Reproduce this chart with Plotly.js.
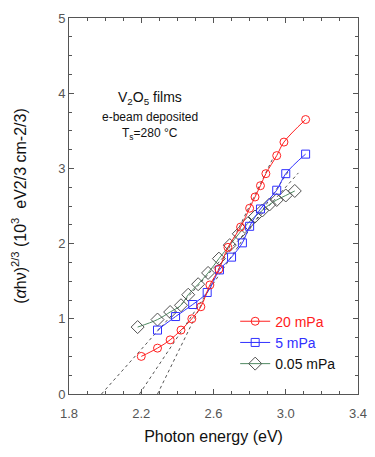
<!DOCTYPE html>
<html>
<head>
<meta charset="utf-8">
<script src="https://cdn.plot.ly/plotly-3.0.1.min.js"></script>
<style>html,body{margin:0;padding:0;background:#fff;}#chart{width:375px;height:457px;}</style>
</head>
<body>
<div id="chart"></div>
<script>
// 20 mPa
const e20 = [2.20, 2.29, 2.36, 2.42, 2.48, 2.53, 2.58, 2.63, 2.68, 2.75, 2.80, 2.83, 2.86, 2.89, 2.95, 2.99, 3.11];
const y20 = [0.50, 0.61, 0.72, 0.85, 1.00, 1.16, 1.45, 1.66, 1.95, 2.22, 2.47, 2.62, 2.77, 2.93, 3.17, 3.35, 3.65];
// 5 mPa
const e5 = [2.29, 2.39, 2.485, 2.565, 2.633, 2.70, 2.76, 2.80, 2.86, 2.95, 3.00, 3.11];
const y5 = [0.85, 1.03, 1.19, 1.35, 1.65, 1.82, 2.01, 2.23, 2.46, 2.71, 2.93, 3.19];
// 0.05 mPa
const e005 = [2.18, 2.29, 2.36, 2.42, 2.46, 2.515, 2.57, 2.63, 2.69, 2.74, 2.79, 2.83, 2.87, 2.91, 2.95, 3.00, 3.05];
const y005 = [0.89, 0.99, 1.09, 1.18, 1.32, 1.46, 1.61, 1.80, 1.98, 2.13, 2.27, 2.36, 2.44, 2.52, 2.58, 2.64, 2.70];
// linear extrapolation (dashed) end points
const fit20x = [2.29, 2.93], fit20y = [0.0, 3.14];
const fit5x = [2.19, 3.02], fit5y = [0.0, 2.98];
const fit005x = [1.98, 3.07], fit005y = [0.0, 2.94];

const xTicks = [1.8, 2.2, 2.6, 3.0, 3.4];
const yTicks = [0, 1, 2, 3, 4, 5];

const red = '#ff2020', blue = '#3030ff', green = '#4f8a62', gray = '#505050';
const dash = {color: '#555', width: 1, dash: '3px,3px'};

const traces = [
  {x: fit005x, y: fit005y, mode: 'lines', line: dash, showlegend: false, hoverinfo: 'skip'},
  {x: fit5x, y: fit5y, mode: 'lines', line: dash, showlegend: false, hoverinfo: 'skip'},
  {x: fit20x, y: fit20y, mode: 'lines', line: dash, showlegend: false, hoverinfo: 'skip'},
  {x: e005, y: y005, name: '<span style="color:#111">0.05 mPa</span>', mode: 'lines+markers',
   line: {color: green, width: 1, shape: 'spline'},
   marker: {symbol: 'diamond-open', size: 10, color: gray, line: {width: 1}}},
  {x: e5, y: y5, name: '<span style="color:' + blue + '">5 mPa</span>', mode: 'lines+markers',
   line: {color: blue, width: 1, shape: 'spline'},
   marker: {symbol: 'square-open', size: 8, color: blue, line: {width: 1}}},
  {x: e20, y: y20, name: '<span style="color:' + red + '">20 mPa</span>', mode: 'lines+markers',
   line: {color: red, width: 1, shape: 'spline'},
   marker: {symbol: 'circle-open', size: 8, color: red, line: {width: 1}}}
];

const axisCommon = {
  showline: true, linecolor: '#555', linewidth: 1, mirror: 'allticks',
  ticks: 'inside', ticklen: 5, tickcolor: '#555', tickwidth: 1,
  showgrid: false, zeroline: false,
  tickfont: {family: 'Liberation Sans, Arial, sans-serif', size: 13, color: '#555'}
};

const layout = {
  width: 375, height: 457,
  margin: {l: 69, r: 17, t: 18, b: 63},
  paper_bgcolor: '#fff', plot_bgcolor: '#fff',
  font: {family: 'Liberation Sans, Arial, sans-serif', color: '#111'},
  xaxis: Object.assign({}, axisCommon, {
    range: [1.8, 3.4], tickvals: xTicks, ticktext: xTicks.map(v => v.toFixed(1)),
    ticklabelstandoff: 7,
    minor: {dtick: 0.1, tick0: 1.8, ticks: 'inside', ticklen: 3, tickcolor: '#555'},
    title: {text: 'Photon energy (eV)', font: {size: 16, color: '#111'}, standoff: 11}
  }),
  yaxis: Object.assign({}, axisCommon, {
    range: [0, 5], tickvals: yTicks, ticktext: yTicks.map(String),
    minor: {dtick: 0.25, tick0: 0, ticks: 'inside', ticklen: 3, tickcolor: '#555'},
    title: {text: '(<i>α</i>hν)<sup>2/3</sup> (10<sup>3</sup>  eV2/3 cm-2/3)', font: {size: 16, color: '#111'}, standoff: 27}
  }),
  legend: {x: 0.575, y: 0.235, xanchor: 'left', yanchor: 'top', bgcolor: 'rgba(0,0,0,0)',
           font: {size: 14}, tracegroupgap: 0, traceorder: 'reversed', itemwidth: 30},
  showlegend: true,
  annotations: [
    {x: 2.25, y: 3.93, xref: 'x', yref: 'y', text: 'V<sub>2</sub>O<sub>5</sub> films', showarrow: false, font: {size: 14, color: '#111'}},
    {x: 2.25, y: 3.68, xref: 'x', yref: 'y', text: 'e-beam deposited', showarrow: false, font: {size: 12, color: '#111'}},
    {x: 2.25, y: 3.46, xref: 'x', yref: 'y', text: 'T<sub>s</sub>=280 °C', showarrow: false, font: {size: 12, color: '#111'}}
  ]
};

Plotly.newPlot('chart', traces, layout, {staticPlot: true, displayModeBar: false});
</script>
</body>
</html>
